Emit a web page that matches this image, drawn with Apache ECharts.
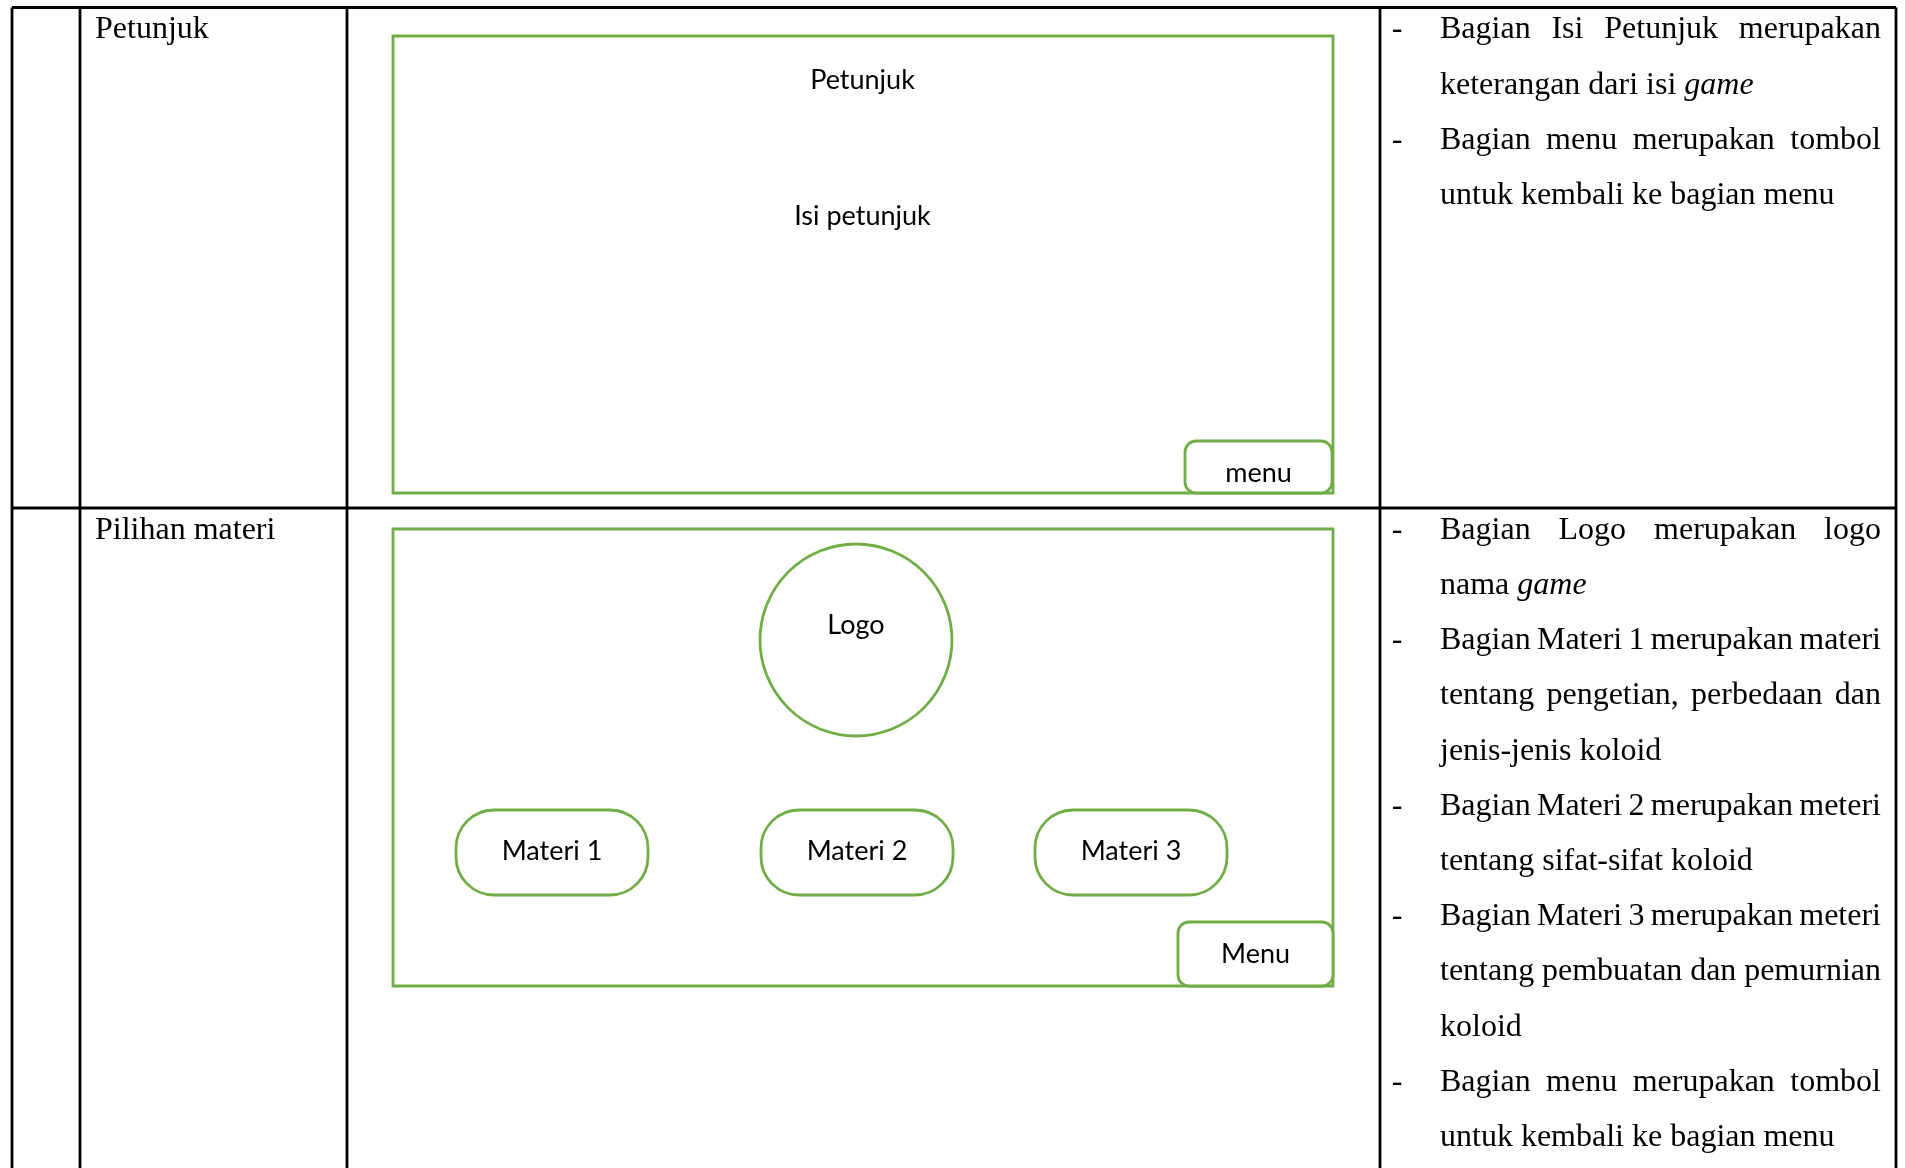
<!DOCTYPE html>
<html>
<head>
<meta charset="utf-8">
<script src="https://cdn.jsdelivr.net/npm/echarts@6/dist/echarts.min.js"></script>
<style>
html,body{margin:0;padding:0;background:#fff;}
#main{width:1905px;height:1168px;}
</style>
</head>
<body>
<div id="main"></div>
<script>
// ---- content (text) ----
const rowLabels = ['Petunjuk', 'Pilihan materi'];
const row1Desc = [
  ['Bagian Isi Petunjuk merupakan', 'keterangan dari isi _game_'],
  ['Bagian menu merupakan tombol', 'untuk kembali ke bagian menu']
];
const row2Desc = [
  ['Bagian Logo merupakan logo', 'nama _game_'],
  ['Bagian Materi 1 merupakan materi', 'tentang pengetian, perbedaan dan', 'jenis-jenis koloid'],
  ['Bagian Materi 2 merupakan meteri', 'tentang sifat-sifat koloid'],
  ['Bagian Materi 3 merupakan meteri', 'tentang pembuatan dan pemurnian', 'koloid'],
  ['Bagian menu merupakan tombol', 'untuk kembali ke bagian menu']
];
const screen1Texts = ['Petunjuk', 'Isi petunjuk', 'menu'];
const screen2Texts = ['Logo', 'Materi 1', 'Materi 2', 'Materi 3', 'Menu'];

// ---- layout ----
const GREEN = '#70AD47';
const SERIF = '"Liberation Serif", "Times New Roman", serif';
const SANS = 'Lato, "Open Sans", sans-serif';
const SERIF_SIZE = 32;
const SANS_SIZE = 27;
const colX = [12, 80, 347, 1380, 1896];
const rowY = [7.5, 508];
const BOTTOM = 1168;
const LINE_H = 55.2;
const FIRST_BASE = 33; // baseline offset from row top
const TEXT_L = 1440, TEXT_R = 1881, DASH_X = 1397;

const mctx = document.createElement('canvas').getContext('2d');
function measure(t, italic) {
  mctx.font = (italic ? 'italic ' : '') + SERIF_SIZE + 'px "Liberation Serif"';
  return mctx.measureText(t).width;
}
const SERIF_MID = 0.33 * SERIF_SIZE; // baseline -> middle offset
const SANS_MID = 0.36 * SANS_SIZE;

const els = [];
function line(x1, y1, x2, y2) {
  els.push({type: 'line', shape: {x1, y1, x2, y2}, style: {stroke: '#000', lineWidth: 2.8}, z: 10});
}
function serifText(t, x, base, italic, align) {
  els.push({type: 'text', x: x, y: base - SERIF_MID, style: {
    text: t, fontSize: SERIF_SIZE, fontFamily: SERIF, fontStyle: italic ? 'italic' : 'normal',
    fill: '#000', align: align || 'left', verticalAlign: 'middle'}});
}
function sansText(t, cx, base) {
  els.push({type: 'text', x: cx, y: base - SANS_MID, z: 5, style: {
    text: t, fontSize: SANS_SIZE, fontFamily: SANS, fill: '#000', align: 'center', verticalAlign: 'middle'}});
}
function box(x, y, w, h, r, z) {
  els.push({type: 'rect', z: z || 1, shape: {x, y, width: w, height: h, r: r || 0},
    style: {fill: '#fff', stroke: GREEN, lineWidth: 2.8}});
}

// table grid
colX.forEach(x => line(x, rowY[0], x, BOTTOM));
rowY.forEach(y => line(colX[0], y, colX[4], y));

// row labels
rowLabels.forEach((t, i) => serifText(t, 95, rowY[i] + FIRST_BASE));

// descriptions
function drawDesc(paras, top) {
  let li = 0;
  paras.forEach(lines => {
    lines.forEach((ln, k) => {
      const base = top + FIRST_BASE + li * LINE_H;
      if (k === 0) serifText('-', DASH_X, base, false, 'center');
      const words = ln.split(' ').map(w => {
        const it = /^_.*_$/.test(w);
        const s = it ? w.slice(1, -1) : w;
        return {s, it, w: measure(s, it)};
      });
      const justify = k < lines.length - 1 && words.length > 1;
      const total = words.reduce((a, b) => a + b.w, 0);
      const gap = justify ? (TEXT_R - TEXT_L - total) / (words.length - 1) : measure(' ', false);
      let x = TEXT_L;
      words.forEach(wd => { serifText(wd.s, x, base, wd.it); x += wd.w + gap; });
      li++;
    });
  });
}
drawDesc(row1Desc, rowY[0]);
drawDesc(row2Desc, rowY[1]);

// screen 1 wireframe
box(393, 36, 940, 457, 0, 1);
box(1185, 441, 147, 52, 11, 2);
sansText(screen1Texts[0], 862.5, 90.5);
sansText(screen1Texts[1], 862.5, 226.5);
sansText(screen1Texts[2], 1258.5, 483);

// screen 2 wireframe
box(393, 529, 940, 457, 0, 1);
els.push({type: 'circle', z: 2, shape: {cx: 856, cy: 640, r: 96}, style: {fill: '#fff', stroke: GREEN, lineWidth: 2.8}});
sansText(screen2Texts[0], 856, 635.5);
const pillX = [456, 761, 1035];
pillX.forEach((x, i) => {
  box(x, 810, 192, 85, 38, 2);
  sansText(screen2Texts[i + 1], x + 96, 861);
});
box(1178, 922, 155, 64, 11, 2);
sansText(screen2Texts[4], 1255.5, 964);

const chart = echarts.init(document.getElementById('main'), null, {renderer: 'canvas'});
chart.setOption({
  backgroundColor: '#fff',
  animation: false,
  graphic: {elements: els}
});
</script>
</body>
</html>
